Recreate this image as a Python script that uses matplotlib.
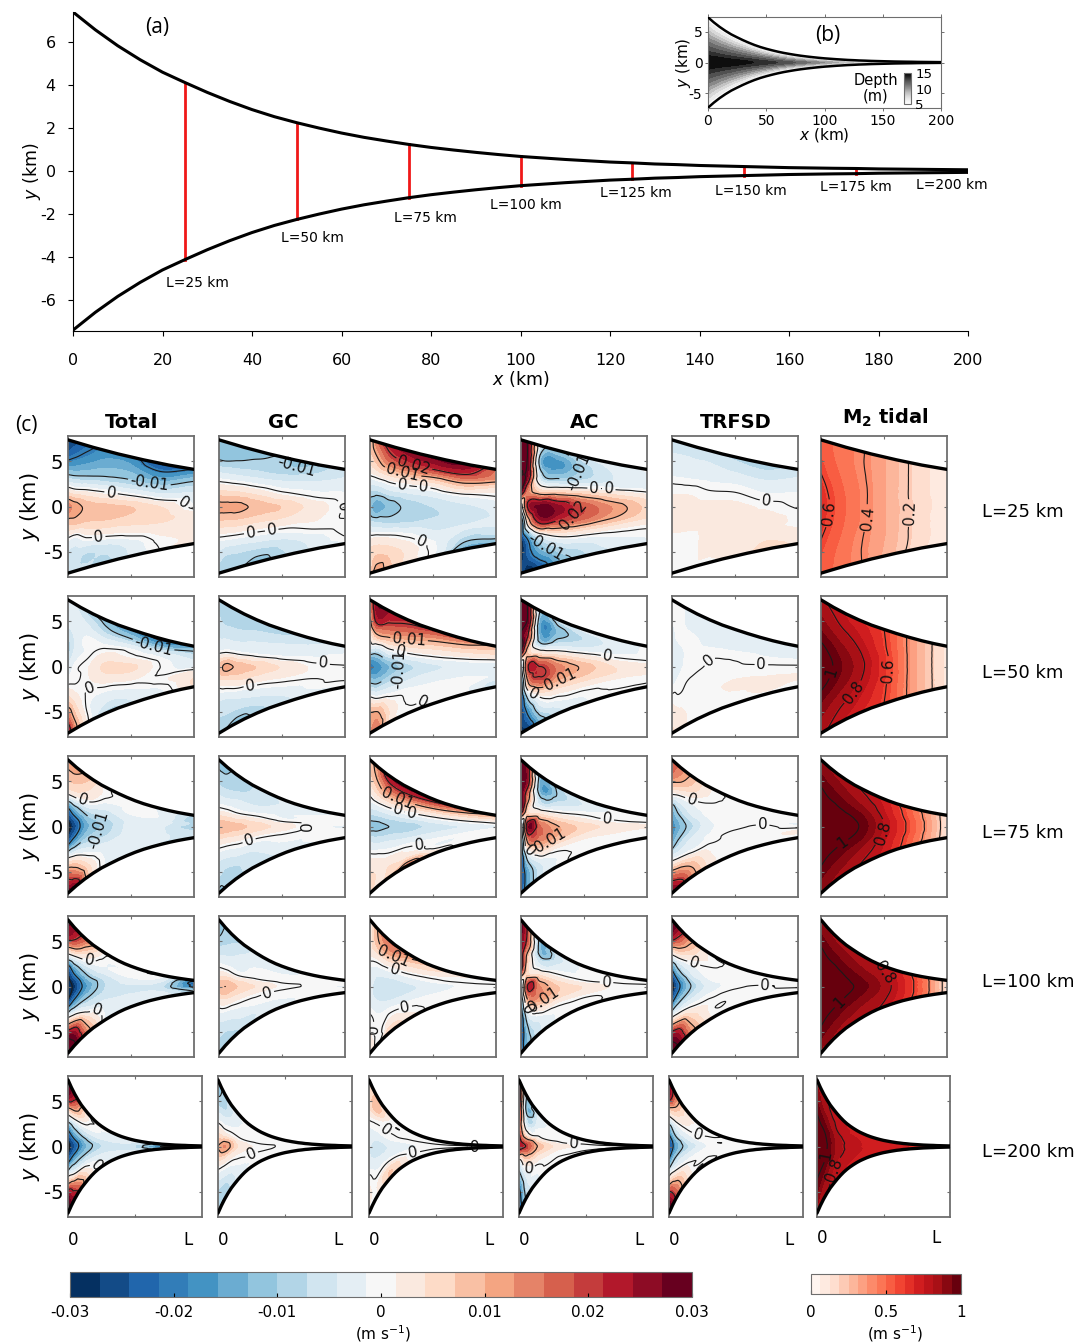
import numpy as np
import matplotlib
matplotlib.use('Agg')
import matplotlib.pyplot as plt
import matplotlib.tri as mtri
from matplotlib.cm import ScalarMappable
from matplotlib.colors import BoundaryNorm

W, H = 1088, 1344

# channel half width
wall_km = [0, 5, 10, 15, 20, 25, 30, 35, 40, 45, 50, 55, 60, 65, 70, 75, 80, 85, 90, 95, 100,
           105, 110, 115, 120, 125, 130, 135, 140, 150, 160, 170, 175, 180, 190, 200]
wall_half = [7.40, 6.57, 5.83, 5.18, 4.60, 4.12, 3.66, 3.24, 2.86, 2.53, 2.25, 2.00, 1.77, 1.57, 1.40, 1.24,
             1.10, 0.98, 0.87, 0.77, 0.68, 0.61, 0.54, 0.48, 0.42, 0.38, 0.33, 0.30, 0.26, 0.21, 0.16, 0.13,
             0.12, 0.10, 0.08, 0.06]
station_km = [25, 50, 75, 100, 125, 150, 175, 200]
station_names = ['L=25 km', 'L=50 km', 'L=75 km', 'L=100 km', 'L=125 km', 'L=150 km', 'L=175 km', 'L=200 km']
station_label_x = [27.7, 53.6, 78.7, 101.2, 125.8, 151.5, 175, 196.4]
station_label_y = [-5.2, -3.1, -2.2, -1.6, -1.0, -0.93, -0.75, -0.65]

# depth in panel (b), rows are fractions of half width
depth_x = [0, 25, 50, 75, 100, 125, 150, 175, 200]
depth_eta = [1, 0.75, 0.5, 0.25, 0, -0.25, -0.5, -0.75, -1]
depth_m = [[5, 5, 5, 5, 5, 5, 5, 5, 5],
           [7.5, 7.3, 7, 6.5, 5.8, 5.2, 5, 5, 5],
           [10.5, 10.2, 9.6, 8.6, 7.4, 6.3, 5.5, 5, 5],
           [13, 12.7, 12, 10.6, 8.8, 7.2, 6, 5.5, 5],
           [15, 14.5, 13.5, 12, 10, 8, 6.5, 5.6, 5],
           [13, 12.7, 12, 10.6, 8.8, 7.2, 6, 5.5, 5],
           [10.5, 10.2, 9.6, 8.6, 7.4, 6.3, 5.5, 5, 5],
           [7.5, 7.3, 7, 6.5, 5.8, 5.2, 5, 5, 5],
           [5, 5, 5, 5, 5, 5, 5, 5, 5]]

# panel (c) grid: columns at fraction of L, rows at fraction of half width
col_frac = [0, 0.05, 0.15, 0.3, 0.5, 0.75, 1]
row_eta = [1, 0.75, 0.5, 0.25, 0, -0.25, -0.5, -0.75, -1]
lengths = [25, 50, 75, 100, 200]
columns = ['Total', 'GC', 'ESCO', 'AC', 'TRFSD', 'M2']

# residual velocities in 0.001 m/s
total_25 = [[-28, -26, -22, -18, -18, -26, -20], [-22, -20, -17, -14, -14, -18, -12], [-11, -11, -10, -9, -9, -10, -6],
            [2, 1, 1, 0.3, -1, -3, -3], [14, 12, 9, 8, 7, 4, -1], [8, 8, 7, 7, 6, 5, 3],
            [-1, -2, 0.3, 1, 2, 3, 2], [-5, -6, -7, -6, -3, 1, 2], [-4, -6, -7, -8, -4, 0.3, 4]]
gc_25 = [[-13, -13, -12, -11, -10, -11, -5], [-11, -11, -10, -9, -9, -7, -4], [-4, -4, -4, -4, -4, -3, -2],
         [4, 4, 4, 3, 1, -0.3, -1], [11, 11, 11, 9, 7, 3, -0.3], [6, 6, 6, 5, 4, 2, -0.3],
         [-1, -1, -1, -1, -1, 0.3, 1], [-6, -7, -7, -7, -6, -3, 0.3], [-8, -8, -9, -12, -8, -4, -2]]
esco_25 = [[6, 14, 22, 26, 28, 28, 16], [5, 9, 16, 19, 20, 20, 13], [1, 2, 4, 5, 5, 8, 4],
           [-7, -7, -5, -4, -3, -1, -0.3], [-12, -15, -12, -9, -7, -5, -3], [-6, -7, -8, -8, -7, -6, -4],
           [2, 2, 1, -1, -4, -4, -4], [6, 7, 6, 3, -1, -8, -7], [7, 12, 8, 3, -1, -15, -14]]
ac_25 = [[30, 30, -4, -10, -5, -2, -1], [30, 30, -12, -17, -9, -4, -2], [30, 28, -6, -10, -6, -3, -2],
         [30, 15, 6, 7, 7, 5, 3], [-5, 20, 28, 25, 18, 12, 6], [-30, 2, 22, 20, 16, 10, 5],
         [-30, -20, -5, 2, 3, 2, 1], [-30, -24, -15, -8, -5, -2, -1], [-25, -30, -25, -14, -8, -4, -2]]
trfsd_25 = [[-5, -5, -5, -6, -8, -9, -6], [-4, -4, -4, -4, -5, -6, -4], [-2, -2, -2, -2, -2, -3, -2],
            [1, 1, 1, 0.3, 0.3, -1, -1], [2, 2, 2, 2, 2, 1, -0.3], [2, 2, 2, 2, 2, 2, 1],
            [1, 1, 1, 2, 2, 2, 1], [0.3, 0.3, 1, 2, 3, 4, 3], [0.3, 0.3, 1, 1, 3, 5, 4]]

total_50 = [[-4, -4, -8, -12, -17, -22, -16], [-2, -2, -4, -8, -10, -14, -10], [-6, -4, -1, -2, -2, -4, -6],
            [-9, -4, -1, 2, 1, -1, -4], [-4, -1, 1, 5, 5, -0.3, -3], [-0.3, -0.3, 1, 3, 3, -0.3, 2],
            [6, 3, -0.3, -1, -0.3, 1, 4], [16, 8, -0.3, -4, -3, -1, 5], [26, 14, 1, -8, -5, -2, 4]]
gc_50 = [[-7, -8, -9, -10, -9, -6, -3], [-7, -8, -8, -7, -6, -4, -2], [-5, -5, -5, -4, -3, -2, -1],
         [-2, -1, -1, -1, -1, -1, -1], [8, 11, 9, 7, 4, 1, 0.3], [2, 3, 4, 3, 2, 1, 1],
         [-4, -4, -3, -2, -1, -0.3, 1], [-7, -7, -7, -6, -4, -1, -0.3], [-9, -10, -12, -9, -6, -3, -1]]
esco_50 = [[12, 26, 25, 22, 20, 16, 9], [10, 22, 19, 16, 12, 9, 6], [3, 9, 9, 7, 5, 4, 3],
           [-5, -7, -3, -1, -0.3, -0.3, -1], [-20, -18, -13, -8, -5, -3, -2], [-10, -11, -8, -5, -3, -2, -2],
           [2, -0.3, -1, -1, -1, -1, -2], [12, 11, 4, -0.3, -0.3, -1, -6], [13, 15, 4, 1, -0.3, -1, -7]]
ac_50 = [[30, 30, -10, -6, -3, -2, -1], [30, 30, -15, -12, -7, -3, -1], [30, 22, -13, -7, -4, -2, -1],
         [30, 8, 3, 4, 3, 1, 0.3], [-12, 18, 20, 14, 9, 4, 3], [-25, 8, 18, 11, 7, 4, 2],
         [-30, -10, 2, 3, 2, 1, 1], [-30, -20, -6, -2, -1, 0.3, 0.3], [-30, -28, -14, -6, -2, -1, -1]]
trfsd_50 = [[-1, -1, -2, -3, -4, -4, -3], [-1, -1, -2, -3, -3, -3, -3], [-2, -1, -1, -2, -2, -2, -2],
            [-3, -2, -1, -0.3, -0.3, -1, -1], [-4, -2, -1, 0.3, 0.3, 0.3, 0.3], [-2, -1, 0.3, 1, 1, 1, 1],
            [1, 0.3, 1, 1, 2, 2, 2], [3, 2, 1, 0.3, 1, 2, 1], [5, 3, 1, 1, 0.3, 1, 1]]

total_75 = [[12, 12, 9, 1, -1, -2, -8], [8, 8, 5, 0.3, -1, -2, -9], [1, 1, 0.3, -3, -1, -2, -10],
            [-22, -16, -9, -7, -3, -3, -8], [-32, -26, -14, -9, -3, -4, -10], [-22, -16, -9, -7, -3, -4, -8],
            [2, 1, -2, -3, -4, -4, -6], [18, 14, 5, -2, -3, -4, -5], [30, 28, 9, -2, -3, -5, -5]]
gc_75 = [[-11, -11, -9, -7, -4, -3, -1], [-9, -9, -8, -6, -4, -2, -1], [-5, -5, -4, -4, -2, -1, -1],
         [1, 1, 0.3, 0.3, -1, -1, -1], [9, 9, 8, 6, 3, -0.5, -2], [2, 2, 2, 1, 0.3, -0.5, -1],
         [-4, -4, -3, -3, -1, -1, -1], [-7, -8, -7, -5, -3, -1, -1], [-11, -10, -8, -6, -4, -2, -1]]
esco_75 = [[7, 12, 24, 26, 24, 16, 9], [6, 9, 16, 17, 14, 9, 6], [1, 3, 5, 5, 4, 3, 2],
           [-5, -5, -4, -3, -2, -1, -0.3], [-11, -11, -10, -9, -6, -4, -2], [-4, -5, -5, -5, -4, -2, -1],
           [2, 1, -0.3, -0.3, -1, -1, -1], [5, 4, 4, 3, -1, -1, -1], [6, 3, 6, 15, 4, -1, -1]]
ac_75 = [[30, 25, -12, -8, -3, -1, -1], [30, 25, -14, -9, -4, -1, -1], [30, 15, -7, -4, -1, -1, -1],
         [28, 6, 4, 3, 2, 1, 1], [-15, 24, 16, 10, 6, 3, 2], [-25, 10, 14, 9, 4, 2, 1],
         [-30, -8, 3, 2, 1, 1, 1], [-28, -16, -5, -1, 0.5, 0.5, 0.5], [-26, -16, -6, -1, 0.5, 0.5, 0.5]]
trfsd_75 = [[20, 16, 10, 2, -0.5, -0.5, -1], [14, 11, 6, 1, -0.5, -0.5, -1], [1, -0.5, -0.5, -0.5, -0.5, -0.5, -1],
            [-14, -9, -4, -1, -0.5, -0.5, -2], [-18, -14, -8, -2, -0.5, 0.3, -1], [-14, -9, -4, -1, 0.5, 0.5, 1],
            [-1, -1, -0.5, 0.5, 0.5, 1, 2], [16, 14, 9, 2, 0.5, 0.5, 1], [30, 26, 14, 3, 0.5, 0.5, 1]]

total_100 = [[28, 26, 16, 1, -1, -1, -16], [24, 18, 6, -1, -1, -2, -22], [1, -1, -2, -2, -1, -4, -24],
             [-26, -18, -10, -6, -3, -6, -22], [-34, -28, -16, -7, -5, -7, -22], [-26, -18, -10, -6, -5, -6, -16],
             [3, 2, -2, -3, -3, -4, -12], [28, 24, 8, -2, -2, -3, -10], [36, 32, 14, -2, -2, -3, -8]]
gc_100 = [[-12, -10, -8, -4, -2, -1, -1], [-10, -8, -5, -3, -2, -1, -1], [-5, -4, -3, -1, -1, -1, -1],
          [1, 1, -0.3, -0.3, -0.5, -0.5, -1], [9, 10, 7, 4, 1, -0.5, -2], [2, 3, 2, 0.5, -0.5, -0.5, -1],
          [-4, -3, -2, -1, -1, -1, -1], [-7, -7, -5, -4, -2, -1, -1], [-9, -10, -8, -4, -2, -1, -1]]
esco_100 = [[1, 9, 16, 14, 7, 3, 1], [2, 8, 12, 7, 4, 1, 1], [2, 2, 3, 2, 1, 1, 1],
            [-2, -3, -3, -2, -1, -0.5, -0.5], [-3, -6, -7, -5, -3, -1, -1], [-2, -4, -5, -4, -2, -1, -1],
            [1, -1, -1, -1, -1, -1, -1], [2, -1, 2, 1, -1, -1, -0.5], [5, -1, 7, 3, -1, -1, -0.5]]
ac_100 = [[30, 20, -12, -5, -1, -0.5, -0.5], [28, 18, -12, -5, -1, -0.5, -0.5], [25, 8, -5, -2, -1, -0.5, -0.5],
          [22, 5, 4, 2, 0.5, 0.3, 0.3], [-10, 20, 13, 7, 4, 1, 0.5], [-20, 8, 12, 6, 3, 0.5, 0.3],
          [-28, -6, 2, 1, 0.3, 0.3, 0.3], [-28, -12, -4, -1, -0.5, 0.3, 0.3], [-25, -14, -5, -1, -0.5, 0.3, 0.3]]
trfsd_100 = [[32, 26, 12, 1, -0.5, -0.5, -1], [24, 16, 6, 1, -0.5, -0.5, -1], [2, 1, -0.5, -0.5, -0.5, -0.5, -1],
             [-20, -12, -5, -1, -0.5, -0.5, -1], [-32, -22, -10, -3, -0.5, 0.3, -2], [-20, -12, -5, -1, 0.5, 0.5, 0.5],
             [3, 3, 2, 1, 0.5, 0.5, 0.5], [26, 22, 9, 1, 0.5, 0.5, 0.5], [36, 30, 14, 2, 0.5, 0.5, 0.5]]

total_200 = [[30, 24, 2, -1, -3, -16, -12], [26, 14, 1, -2, -4, -16, -12], [2, -1, -2, -3, -5, -18, -12],
             [-20, -14, -8, -5, -7, -20, -12], [-32, -24, -12, -6, -7, -22, -12], [-20, -14, -8, -5, -7, -20, -12],
             [4, -1, -2, -3, -5, -18, -12], [28, 16, 3, -2, -4, -16, -12], [34, 26, 5, -2, -4, -16, -12]]
gc_200 = [[-12, -9, -2, -1, -0.3, -0.3, -0.3], [-10, -8, -2, -1, -0.3, -0.3, -0.3], [-4, -3, -1, -0.5, -0.3, -0.3, -0.3],
          [3, 2, 0.5, -0.3, -0.3, -0.3, -0.3], [10, 13, 4, 1, -0.3, -0.3, -0.3], [3, 3, 1, 0.3, -0.3, -0.3, -0.3],
          [-4, -3, -1, -0.5, -0.3, -0.3, -0.3], [-9, -8, -3, -1, -0.3, -0.3, -0.3], [-10, -10, -3, -1, -0.3, -0.3, -0.3]]
esco_200 = [[6, 7, 2, 0.3, 0.3, 0.3, 0.3], [5, 9, 1, 0.3, 0.3, 0.3, 0.3], [2, 1, 0.3, 0.3, 0.3, 0.3, 0.3],
            [-2, -2, -1, -1, -0.3, -0.3, -0.3], [-4, -6, -4, -2, -0.3, -0.3, -0.3], [-3, -4, -3, -1, -0.3, -0.3, -0.3],
            [1, -1, 1, 0.3, 0.3, 0.3, 0.3], [2, 1, 7, 1, 0.3, 0.3, 0.3], [1, 0.5, 7, 2, 0.3, 0.3, 0.3]]
ac_200 = [[30, -8, -2, -0.3, -0.3, -0.3, -0.3], [28, -10, -3, -0.3, -0.3, -0.3, -0.3], [22, -5, -1, -0.3, -0.3, -0.3, -0.3],
          [18, 3, 1, 0.3, 0.3, 0.3, 0.3], [24, 20, 9, 3, 0.5, 0.3, 0.3], [-5, 6, 4, 1, 0.3, 0.3, 0.3],
          [-15, -3, 0.3, 0.3, 0.3, 0.3, 0.3], [-24, -7, -1, -0.3, -0.3, -0.3, -0.3], [-28, -10, -2, -0.3, -0.3, -0.3, -0.3]]
trfsd_200 = [[30, 16, 2, 0.3, -0.3, -0.3, -0.3], [24, 10, 2, 0.3, -0.3, -0.3, -0.3], [3, 1, 0.3, -0.3, -0.3, -0.3, -0.3],
             [-16, -8, -3, -0.5, -0.3, -0.3, -0.3], [-28, -16, -7, -1, -0.3, -0.3, -0.3], [-16, -8, -3, -0.5, -0.3, -0.3, -0.3],
             [4, 2, 0.3, -0.3, -0.3, -0.3, -0.3], [24, 14, 2, 0.3, -0.3, -0.3, -0.3], [34, 20, 3, 0.3, -0.3, -0.3, -0.3]]

# M2 tidal amplitude in m/s
m2_25 = [[.55, .52, .47, .42, .32, .17, .08], [.56, .53, .48, .42, .32, .17, .08], [.6, .56, .5, .43, .32, .17, .08],
         [.65, .6, .52, .44, .32, .17, .08], [.68, .62, .53, .44, .32, .18, .08], [.66, .6, .52, .44, .32, .17, .08],
         [.6, .56, .5, .42, .32, .17, .08], [.56, .53, .48, .41, .31, .17, .08], [.55, .52, .47, .41, .3, .16, .08]]
m2_50 = [[.82, .8, .76, .7, .6, .32, .1], [.88, .85, .8, .74, .61, .32, .1], [.95, .92, .86, .78, .62, .32, .1],
         [1.04, 1.0, .92, .82, .64, .32, .1], [1.08, 1.04, .95, .84, .64, .32, .1], [1.04, 1.0, .92, .82, .64, .32, .1],
         [.95, .92, .86, .78, .62, .32, .1], [.88, .85, .8, .74, .61, .32, .1], [.82, .8, .76, .7, .6, .32, .1]]
m2_75 = [[.88, .87, .84, .8, .72, .45, .12], [.95, .93, .9, .84, .74, .47, .12], [1.03, 1.0, .96, .9, .76, .48, .12],
         [1.1, 1.08, 1.03, .97, .79, .5, .12], [1.12, 1.1, 1.06, 1.0, .8, .5, .12], [1.1, 1.08, 1.03, .97, .79, .5, .12],
         [1.03, 1.0, .96, .9, .76, .48, .12], [.95, .93, .9, .84, .74, .47, .12], [.88, .87, .84, .8, .72, .45, .12]]
m2_100 = [[.85, .86, .84, .82, .78, .56, .13], [.95, .93, .9, .86, .8, .57, .13], [1.03, 1.0, .96, .9, .82, .58, .13],
          [1.1, 1.08, 1.02, .95, .84, .58, .13], [1.12, 1.1, 1.05, .98, .85, .58, .13], [1.1, 1.08, 1.02, .95, .84, .58, .13],
          [1.03, 1.0, .96, .9, .82, .58, .13], [.95, .93, .9, .86, .8, .57, .13], [.85, .86, .84, .82, .78, .56, .13]]
m2_200 = [[.85, .82, .76, .74, .72, .68, .68], [.92, .86, .78, .74, .72, .68, .68], [1.0, .94, .8, .75, .72, .68, .68],
          [1.07, 1.02, .84, .76, .72, .68, .68], [1.1, 1.05, .85, .76, .72, .68, .68], [1.07, 1.02, .84, .76, .72, .68, .68],
          [1.0, .94, .8, .75, .72, .68, .68], [.92, .86, .78, .74, .72, .68, .68], [.85, .82, .76, .74, .72, .68, .68]]

fields = [[total_25, gc_25, esco_25, ac_25, trfsd_25, m2_25],
          [total_50, gc_50, esco_50, ac_50, trfsd_50, m2_50],
          [total_75, gc_75, esco_75, ac_75, trfsd_75, m2_75],
          [total_100, gc_100, esco_100, ac_100, trfsd_100, m2_100],
          [total_200, gc_200, esco_200, ac_200, trfsd_200, m2_200]]

# where the contour labels sit: (fraction of L, y in km)
label_spots = [
    [[(.65, 3.0), (.32, -.6), (.24, -2.9), (.92, .45)], [(.61, 3.9), (.40, -.6), (.25, -2.7), (.98, 0)],
     [(.35, 4.7), (.26, 3.7), (.26, 2.6), (.41, .2), (.41, -3.7)],
     [(.45, 3.9), (.70, 2.9), (.58, 1.6), (.42, -1.1), (.2, -4.3)], [(.75, .6)], [(.13, -.9), (.46, -1.4), (.75, -.9)]],
    [[(.68, 2.5), (.17, -2)], [(.83, 1.4), (.25, -2.3)], [(.31, 3.0), (.24, 1.5), (.31, -1.1), (.55, -2.5)],
     [(.70, 2.3), (.33, -2), (.09, -3.4)], [(.09, 4.3), (.71, .8)], [(.55, -.4), (.1, -.7), (.25, -2.8)]],
    [[(.13, 3.5), (.33, -1.9)], [(.82, .9), (.25, -2.1)], [(.22, 3.2), (.23, 2.2), (.31, 0), (.39, -2.2)],
     [(.69, 1.5), (.25, -2), (.06, -3)], [(.15, 2.7), (.72, .6)], [(.47, -.6), (.18, -2)]],
    [[(.17, 3.1), (.26, -1.9)], [(.4, -1.5)], [(.19, 3.5), (.2, 2), (.28, -2.1), (.05, -4.7)],
     [(.68, 1), (.19, -1.7), (.04, -2.6)], [(.17, 2.5), (.74, .3)], [(.48, 1.3), (.14, -1.7)]],
    [[(.24, -1.2)], [(.26, -1.2)], [(.11, 1.6), (.33, -.6), (.79, 0)], [(.41, .5), (.07, -3.2)], [(.22, 1.4)],
     [(.06, -1), (.14, -2.7)]],
]

res_edges = np.linspace(-0.03, 0.03, 22)
res_lines = [-0.03, -0.02, -0.01, 0, 0.01, 0.02, 0.03]
tide_edges = np.linspace(0, 1, 17)
tide_lines = [0.2, 0.4, 0.6, 0.8, 1.0]
res_cmap = plt.get_cmap('RdBu_r', 21)
tide_cmap = plt.get_cmap('Reds', 16)
res_norm = BoundaryNorm(res_edges, 21, clip=True)
tide_norm = BoundaryNorm(tide_edges, 16, clip=True)
GREY = '#6e6e6e'


def px_axes(fig, left, top, right, bottom):
    return fig.add_axes([left / W, 1 - bottom / H, (right - left) / W, (bottom - top) / H])


def grid_triangles(nrow, ncol):
    tris = []
    for r in range(nrow - 1):
        for c in range(ncol - 1):
            a = r * ncol + c
            tris.append([a, a + 1, a + ncol])
            tris.append([a + 1, a + ncol + 1, a + ncol])
    return tris


def half_width(xkm):
    return np.interp(xkm, wall_km, wall_half)


def draw_walls(ax, xs, ys, lw):
    ax.plot(xs, ys, color='k', lw=lw, solid_capstyle='round', zorder=5)
    ax.plot(xs, -ys, color='k', lw=lw, solid_capstyle='round', zorder=5)


def channel_mesh(frac, eta, z, length, subdiv):
    # refine along the channel, then bend the mesh to the walls
    xx, ee = np.meshgrid(frac, eta)
    tri = mtri.Triangulation(xx.ravel(), ee.ravel(), grid_triangles(len(eta), len(frac)))
    cubic = mtri.CubicTriInterpolator(tri, z.ravel(), kind='geom')
    fine, zfine = mtri.UniformTriRefiner(tri).refine_field(z.ravel(), triinterpolator=cubic, subdiv=subdiv)
    yfine = fine.y * half_width(fine.x * length)
    return mtri.Triangulation(fine.x, yfine, fine.triangles), zfine


def draw_cell(ax, data, length, is_tide, spots):
    z = np.array(data, dtype=float)
    if not is_tide:
        z = z / 1000.0
    edges = tide_edges if is_tide else res_edges
    lines = tide_lines if is_tide else res_lines
    cmap = tide_cmap if is_tide else res_cmap
    mesh, zfine = channel_mesh(np.array(col_frac), np.array(row_eta), z, length, 4)
    ax.set_xlim(0, 1)
    ax.set_ylim(-7.83, 7.83)
    ax.tricontourf(mesh, zfine, levels=edges, cmap=cmap, extend='both')
    cs = ax.tricontour(mesh, zfine, levels=lines, colors='#1a1a1a', linewidths=0.8, linestyles='solid')

    km = np.array([k for k in wall_km if k <= length], dtype=float)
    if spots:
        labels = ax.clabel(cs, manual=spots, fmt=lambda v: f'{v:g}', fontsize=11, inline=True, inline_spacing=2)
        for t in labels:
            t.set_color('#111111')
    draw_walls(ax, km / length, half_width(km), 2.4)

    ax.set_xticks([0.5])
    ax.set_xticklabels([])
    ax.set_yticks([-5, 0, 5])
    ax.set_yticklabels([])
    ax.tick_params(direction='in', length=2, width=0.8, color=GREY, top=True, right=True)
    for s in ax.spines.values():
        s.set_color(GREY)
        s.set_linewidth(1.3)


def main():
    fig = plt.figure(figsize=(W / 100, H / 100), dpi=100)

    # panel (a)
    ax = px_axes(fig, 73, 12, 968, 331)
    km = np.array(wall_km, dtype=float)
    half = np.array(wall_half)
    draw_walls(ax, km, half, 2.2)
    for x0, name, lx, ly in zip(station_km, station_names, station_label_x, station_label_y):
        b = half_width(x0)
        ax.plot([x0, x0], [-b, b], color='#f01818', lw=2, zorder=4)
        ax.text(lx, ly, name, fontsize=10, ha='center', va='center', clip_on=False)
    ax.set_xlim(0, 200)
    ax.set_ylim(-7.44, 7.4)
    ax.set_xticks(np.arange(0, 201, 20))
    ax.set_yticks([-6, -4, -2, 0, 2, 4, 6])
    ax.set_yticklabels(['-6', '-4', '-2', '0', '2', '4', '6'])
    ax.tick_params(axis='x', labelsize=11.5, length=3.5, width=0.8, pad=12)
    ax.tick_params(axis='y', labelsize=11.5, length=3.5, width=0.8, pad=9)
    ax.spines['top'].set_visible(False)
    ax.spines['right'].set_visible(False)
    ax.set_xlabel(r'$\mathit{x}$ (km)', fontsize=12.5, labelpad=1)
    ax.set_ylabel(r'$\mathit{y}$ (km)', fontsize=12.5, labelpad=-2)
    fig.text(157 / W, 1 - 28 / H, '(a)', fontsize=15, family='Open Sans', ha='center', va='center')

    # panel (b)
    axb = px_axes(fig, 708, 17, 941, 108)
    dmesh, dz = channel_mesh(np.array(depth_x) / 200.0, np.array(depth_eta), np.array(depth_m, dtype=float), 200, 3)
    dmesh = mtri.Triangulation(dmesh.x * 200.0, dmesh.y, dmesh.triangles)
    axb.set_xlim(0, 200)
    axb.set_ylim(-7.45, 7.45)
    axb.tricontourf(dmesh, dz, levels=np.arange(5, 15.6, 1), cmap='Greys', extend='both')
    draw_walls(axb, km, half, 1.8)
    axb.set_xticks([0, 50, 100, 150, 200])
    axb.set_yticks([-5, 0, 5])
    axb.set_yticklabels(['-5', '0', '5'])
    axb.tick_params(labelsize=10, length=2, width=0.7, pad=2, color=GREY, top=True, right=True, direction='out')
    for s in axb.spines.values():
        s.set_color(GREY)
    axb.set_xlabel(r'$\mathit{x}$ (km)', fontsize=11, labelpad=-1)
    axb.set_ylabel(r'$\mathit{y}$ (km)', fontsize=11, labelpad=-3)
    axb.text(828 / W, 1 - 36 / H, '(b)', transform=fig.transFigure, fontsize=15, family='Open Sans',
             ha='center', va='center')
    axb.text(876 / W, 1 - 88 / H, 'Depth\n(m)', transform=fig.transFigure, fontsize=10.5, ha='center', va='center',
             linespacing=1.05)
    cb_ax = px_axes(fig, 904, 73, 911, 104)
    dbar = fig.colorbar(ScalarMappable(norm=plt.Normalize(5, 15), cmap='Greys'), cax=cb_ax)
    dbar.set_ticks([5, 10, 15])
    dbar.ax.tick_params(labelsize=9.5, length=0, pad=3)
    dbar.outline.set_edgecolor(GREY)

    # panel (c)
    tops = [436, 596, 756, 916, 1076]
    lefts = [68, 219, 370, 521, 672, 821]
    last_lefts = [68, 218, 369, 519, 669, 817]
    last_rights = [202, 352, 503, 653, 803, 950]
    for r, length in enumerate(lengths):
        for c, name in enumerate(columns):
            if r == 4:
                left, right = last_lefts[c], last_rights[c]
            else:
                left, right = lefts[c], lefts[c] + 126
            cell = px_axes(fig, left, tops[r], right, tops[r] + 141)
            draw_cell(cell, fields[r][c], length, name == 'M2', label_spots[r][c])
            if c == 0:
                cell.set_yticklabels(['-5', '0', '5'], fontsize=14)
                cell.set_ylabel(r'$\mathit{y}$ (km)', fontsize=15, labelpad=1)
            if r == 4:
                yl = 1238 if name == 'M2' else 1240
                fig.text((left + 5) / W, 1 - yl / H, '0', fontsize=12, ha='center', va='center')
                fig.text((right - 14) / W, 1 - yl / H, 'L', fontsize=12, ha='center', va='center')
        name = 'L=%d km' % length
        ly = [512, 673, 833, 982, 1152][r]
        fig.text(982 / W, 1 - ly / H, name, fontsize=13, ha='left', va='center')

    titles = ['Total', 'GC', 'ESCO', 'AC', 'TRFSD', r'$\mathbf{M_2}$ tidal']
    title_y = [423, 423, 423, 423, 423, 418]
    for c, title in enumerate(titles):
        fig.text((lefts[c] + 64) / W, 1 - title_y[c] / H, title, fontsize=14, fontweight='bold', ha='center', va='center')
    fig.text(26 / W, 1 - 425 / H, '(c)', fontsize=15, family='Open Sans', ha='center', va='center')

    # colour bars
    cax1 = px_axes(fig, 70, 1272, 692, 1297)
    bar1 = fig.colorbar(ScalarMappable(norm=res_norm, cmap=res_cmap), cax=cax1, orientation='horizontal',
                        spacing='proportional')
    bar1.set_ticks([-0.03, -0.02, -0.01, 0, 0.01, 0.02, 0.03])
    bar1.set_ticklabels(['-0.03', '-0.02', '-0.01', '0', '0.01', '0.02', '0.03'])
    bar1.ax.tick_params(labelsize=11, direction='in', length=3, width=0.8, pad=6)
    bar1.ax.minorticks_off()
    bar1.outline.set_edgecolor(GREY)
    cax2 = px_axes(fig, 811, 1274, 961, 1294)
    bar2 = fig.colorbar(ScalarMappable(norm=tide_norm, cmap=tide_cmap), cax=cax2, orientation='horizontal',
                        spacing='proportional')
    bar2.set_ticks([0, 0.5, 1])
    bar2.set_ticklabels(['0', '0.5', '1'])
    bar2.ax.tick_params(labelsize=11, direction='in', length=3, width=0.8, pad=8)
    bar2.ax.minorticks_off()
    bar2.outline.set_edgecolor(GREY)
    fig.text(383 / W, 1 - 1334 / H, r'(m s$^{-1}$)', fontsize=11, ha='center', va='center')
    fig.text(895 / W, 1 - 1334 / H, r'(m s$^{-1}$)', fontsize=11, ha='center', va='center')

    fig.savefig('out.png', dpi=100)


if __name__ == '__main__':
    main()
